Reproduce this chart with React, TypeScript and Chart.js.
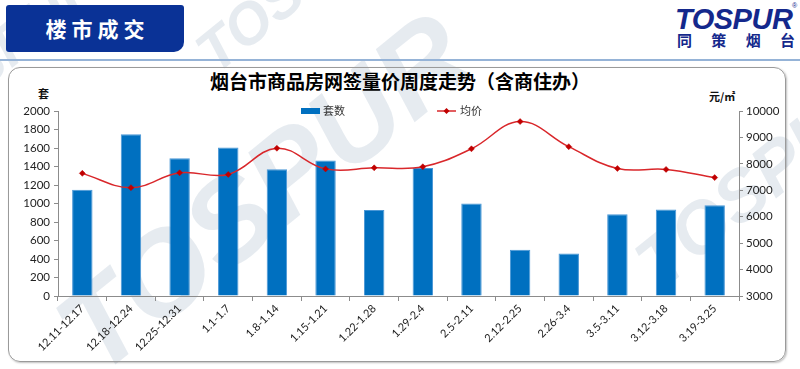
import React, { useEffect, useRef } from "react";
import { Chart, registerables } from "chart.js";

Chart.register(...registerables);

const categories = [
  "12.11-12.17", "12.18-12.24", "12.25-12.31", "1.1-1.7", "1.8-1.14", "1.15-1.21", "1.22-1.28",
  "1.29-2.4", "2.5-2.11", "2.12-2.25", "2.26-3.4", "3.5-3.11", "3.12-3.18", "3.19-3.25",
];
const unitsSold = [1150, 1750, 1490, 1605, 1370, 1465, 930, 1385, 1000, 500, 460, 885, 935, 980];
const avgPrice = [7640, 7100, 7660, 7600, 8590, 7810, 7850, 7890, 8570, 9600, 8650, 7825, 7790, 7480];
const seriesNames = ["套数", "均价"];
const leftAxisRange = [0, 2000, 200];
const rightAxisRange = [3000, 10000, 1000];
const leftUnit = "套";
const rightUnit = "元/㎡";
const chartTitle = "烟台市商品房网签量价周度走势（含商住办）";
const headerText = "楼市成交";
const logoText = "TOSPUR";
const logoCn = ["同", "策", "烟", "台"];

const BAR_COLOR = "#0070C0";
const LINE_COLOR = "#D9272B";
const POINT_COLOR = "#C00000";
const AXIS_COLOR = "#8C8C8C";
const TICK_FONT = { family: "Lato, 'Liberation Sans', sans-serif", size: 11.5 };

const legendPlugin = {
  id: "customLegend",
  afterDraw(chart: any) {
    const ctx = chart.ctx;
    ctx.save();
    ctx.font = "11px 'Noto Sans CJK SC', sans-serif";
    ctx.textBaseline = "middle";
    ctx.fillStyle = BAR_COLOR;
    ctx.fillRect(301, 108, 19, 6);
    ctx.fillStyle = "#333";
    ctx.fillText(seriesNames[0], 323, 111);
    ctx.strokeStyle = LINE_COLOR;
    ctx.lineWidth = 1.5;
    ctx.beginPath();
    ctx.moveTo(437, 111);
    ctx.lineTo(456, 111);
    ctx.stroke();
    ctx.fillStyle = POINT_COLOR;
    ctx.beginPath();
    ctx.moveTo(446.5, 108);
    ctx.lineTo(449.5, 111);
    ctx.lineTo(446.5, 114);
    ctx.lineTo(443.5, 111);
    ctx.closePath();
    ctx.fill();
    ctx.fillStyle = "#333";
    ctx.fillText(seriesNames[1], 460, 111);
    ctx.restore();
  },
};

function Watermark(props: { x: number; y: number; size: number; angle: number }) {
  const { x, y, size, angle } = props;
  return (
    <span
      style={{
        position: "absolute",
        left: x,
        top: y - size,
        fontSize: size,
        lineHeight: 1,
        fontFamily: "'Liberation Sans', Arial, sans-serif",
        fontWeight: 900,
        fontStyle: "italic",
        color: "rgba(200,211,221,0.45)",
        transform: `rotate(${angle}deg)`,
        transformOrigin: "left bottom",
        whiteSpace: "nowrap",
        pointerEvents: "none",
      }}
    >
      {logoText}
    </span>
  );
}

const plainTick = (v: any) => String(v);

export default function App() {
  const canvasRef = useRef<HTMLCanvasElement | null>(null);

  useEffect(() => {
    if (!canvasRef.current) return;
    const chart = new Chart(canvasRef.current, {
      type: "bar",
      data: {
        labels: categories,
        datasets: [
          {
            type: "line",
            label: seriesNames[1],
            data: avgPrice,
            yAxisID: "y1",
            borderColor: LINE_COLOR,
            borderWidth: 1.5,
            tension: 0.4,
            pointStyle: "rectRot",
            pointRadius: 3,
            pointBackgroundColor: POINT_COLOR,
            pointBorderColor: POINT_COLOR,
            pointBorderWidth: 0.5,
            fill: false,
            order: 0,
          } as any,
          {
            type: "bar",
            label: seriesNames[0],
            data: unitsSold,
            yAxisID: "y",
            backgroundColor: BAR_COLOR,
            borderColor: "#4A97D6",
            borderWidth: 1,
            barPercentage: 0.42,
            categoryPercentage: 1,
            order: 1,
          } as any,
        ],
      },
      options: {
        responsive: false,
        animation: false,
        devicePixelRatio: 1,
        layout: { padding: { top: 111, left: 0, right: 0, bottom: 0 } },
        plugins: {
          legend: { display: false },
          title: { display: false },
          tooltip: { enabled: false },
        },
        scales: {
          x: {
            offset: true,
            grid: {
              display: true,
              offset: true,
              drawOnChartArea: false,
              drawTicks: true,
              tickLength: 5,
              color: AXIS_COLOR,
            },
            border: { display: true, color: AXIS_COLOR },
            ticks: {
              autoSkip: false,
              minRotation: 45,
              maxRotation: 45,
              color: "#222",
              font: { ...TICK_FONT, size: 11 },
              padding: 1,
            },
            afterFit: (s: any) => {
              s.height = 73;
            },
          },
          y: {
            position: "left",
            min: leftAxisRange[0],
            max: leftAxisRange[1],
            ticks: { stepSize: leftAxisRange[2], color: "#222", font: TICK_FONT, padding: 4, callback: plainTick },
            grid: { display: true, drawOnChartArea: false, drawTicks: true, tickLength: 4, color: AXIS_COLOR },
            border: { display: true, color: AXIS_COLOR },
            afterFit: (s: any) => {
              s.width = 58;
            },
          },
          y1: {
            position: "right",
            min: rightAxisRange[0],
            max: rightAxisRange[1],
            ticks: { stepSize: rightAxisRange[2], color: "#222", font: TICK_FONT, padding: 3, callback: plainTick },
            grid: { display: true, drawOnChartArea: false, drawTicks: true, tickLength: 4, color: AXIS_COLOR },
            border: { display: true, color: AXIS_COLOR },
            afterFit: (s: any) => {
              s.width = 61;
            },
          },
        },
      } as any,
      plugins: [legendPlugin],
    });
    return () => chart.destroy();
  }, []);

  return (
    <div
      style={{
        position: "absolute",
        left: 0,
        top: 0,
        width: 800,
        height: 369,
        overflow: "hidden",
        background: "#fff",
        fontFamily: "'Noto Sans CJK SC', sans-serif",
      }}
    >
      <Watermark x={110} y={392} size={118} angle={-39} />
      <Watermark x={668} y={300} size={72} angle={-39} />
      <Watermark x={222} y={82} size={58} angle={-39} />
      <Watermark x={-75} y={150} size={58} angle={-39} />

      <div
        style={{
          position: "absolute",
          left: 6,
          top: 5,
          width: 178,
          height: 47,
          background: "#0A3296",
          borderRadius: "3px 3px 10px 3px",
          color: "#fff",
          fontWeight: 700,
          fontSize: 21,
          letterSpacing: 5,
          lineHeight: "47px",
          textAlign: "center",
          paddingLeft: 5,
          boxSizing: "border-box",
        }}
      >
        {headerText}
      </div>

      <div
        style={{
          position: "absolute",
          left: 675,
          top: 5,
          fontFamily: "'Liberation Sans', Arial, sans-serif",
          fontWeight: 700,
          fontStyle: "italic",
          fontSize: 29,
          lineHeight: "29px",
          color: "#14288C",
          letterSpacing: -0.5,
        }}
      >
        {logoText}
      </div>
      <div
        style={{
          position: "absolute",
          left: 792,
          top: 2,
          fontSize: 7,
          lineHeight: "7px",
          color: "#14288C",
          fontFamily: "'Liberation Sans', Arial, sans-serif",
        }}
      >
        ®
      </div>
      <div
        style={{
          position: "absolute",
          left: 677,
          top: 31,
          width: 118,
          display: "flex",
          justifyContent: "space-between",
          fontWeight: 700,
          fontSize: 15,
          lineHeight: "17px",
          color: "#14288C",
        }}
      >
        {logoCn.map((c) => (
          <span key={c}>{c}</span>
        ))}
      </div>

      <div style={{ position: "absolute", left: 0, top: 59, width: 800, height: 2, background: "#95B3D7" }} />

      <div
        style={{
          position: "absolute",
          left: 8,
          top: 67,
          width: 778,
          height: 295,
          boxSizing: "border-box",
          border: "1px solid #9A9A9A",
          borderRadius: 12,
          boxShadow: "1px 1px 2px rgba(0,0,0,0.25)",
        }}
      />

      <div
        style={{
          position: "absolute",
          left: 0,
          top: 70,
          width: 800,
          textAlign: "center",
          fontWeight: 700,
          fontSize: 19,
          lineHeight: "22px",
          color: "#000",
        }}
      >
        {chartTitle}
      </div>

      <div
        style={{
          position: "absolute",
          left: 38,
          top: 87,
          fontWeight: 700,
          fontSize: 11,
          lineHeight: "13px",
          color: "#111",
        }}
      >
        {leftUnit}
      </div>
      <div
        style={{
          position: "absolute",
          left: 709,
          top: 90,
          fontWeight: 700,
          fontSize: 11,
          lineHeight: "13px",
          color: "#111",
        }}
      >
        {rightUnit}
      </div>

      <canvas
        ref={canvasRef}
        width={800}
        height={369}
        style={{ position: "absolute", left: 0, top: 0, width: 800, height: 369 }}
      />
    </div>
  );
}
